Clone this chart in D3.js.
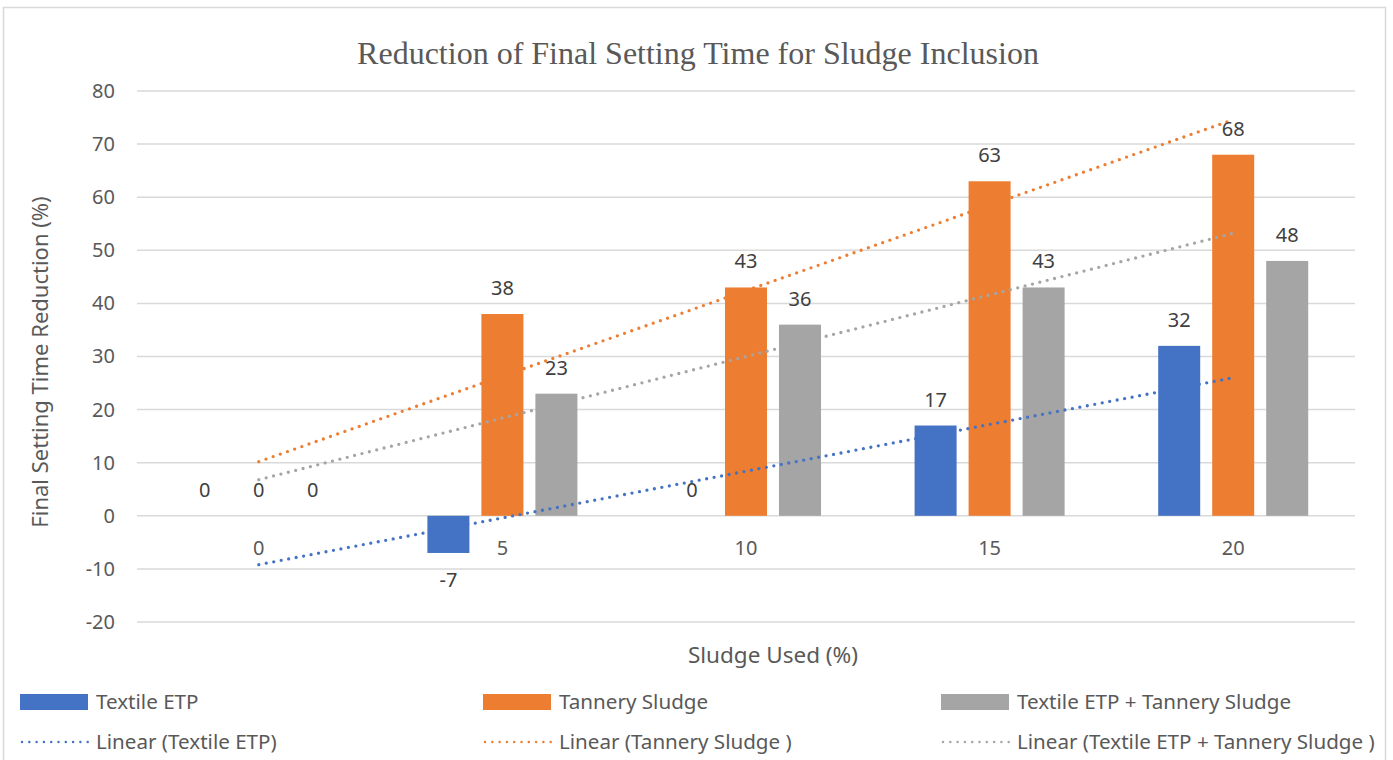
<!doctype html>
<html>
<head>
<meta charset="utf-8">
<style>
  body { margin: 0; background: #fff; }
  text { font-family: "Noto Sans", sans-serif; }
</style>
<script src="https://d3js.org/d3.v7.min.js"></script>
</head>
<body>
<div id="chart"></div>
<script>
// data
var categories = ["0", "5", "10", "15", "20"];
var textileEtp = [0, -7, 0, 17, 32];
var tannerySludge = [0, 38, 43, 63, 68];
var combined = [0, 23, 36, 43, 48];
var yTicks = [-20, -10, 0, 10, 20, 30, 40, 50, 60, 70, 80];

var seriesNames = ["Textile ETP", "Tannery Sludge", "Textile ETP + Tannery Sludge"];
var trendNames = ["Linear (Textile ETP)", "Linear (Tannery Sludge )", "Linear (Textile ETP + Tannery Sludge )"];
var colors = ["#4472C4", "#ED7D31", "#A5A5A5"];

var series = [textileEtp, tannerySludge, combined];

var W = 1393, H = 760;
var plot = {left: 137, right: 1355, top: 91, bottom: 622};

var svg = d3.select("#chart").append("svg")
    .attr("width", W)
    .attr("height", H);

// outer frame of the chart area
svg.append("rect")
    .attr("x", 3.5).attr("y", 7.5)
    .attr("width", 1382).attr("height", 800)
    .attr("fill", "#fff")
    .attr("stroke", "#d9d9d9")
    .attr("stroke-width", 1.5);

var x = d3.scaleBand()
    .domain(categories)
    .range([plot.left, plot.right]);

var xs = d3.scaleBand()
    .domain(d3.range(series.length))
    .range([-81, 81])
    .paddingInner(0.222)
    .paddingOuter(0.111);

var y = d3.scaleLinear()
    .domain([-20, 80])
    .range([plot.bottom, plot.top]);

// gridlines
svg.append("g")
  .selectAll("line")
  .data(yTicks)
  .enter()
  .append("line")
    .attr("x1", plot.left)
    .attr("x2", plot.right)
    .attr("y1", function(d) { return y(d); })
    .attr("y2", function(d) { return y(d); })
    .attr("stroke", "#d9d9d9")
    .attr("stroke-width", 1.5);

// y axis labels (plain hyphen for negatives, as in the original)
var yAxis = svg.append("g")
    .attr("transform", "translate(" + (plot.left - 22) + ",0)")
    .call(d3.axisLeft(y).tickValues(yTicks).tickSize(0).tickPadding(0)
      .tickFormat(function(d) { return String(d); }));
yAxis.select(".domain").remove();
yAxis.selectAll("text")
    .attr("fill", "#595959")
    .style("font-family", "'Noto Sans', sans-serif")
    .style("font-size", "20px");

// bars
series.forEach(function(vals, si) {
  svg.append("g")
    .selectAll("rect")
    .data(vals)
    .enter()
    .append("rect")
      .attr("x", function(d, i) { return x(categories[i]) + x.bandwidth() / 2 + xs(si); })
      .attr("width", xs.bandwidth())
      .attr("y", function(d) { return y(Math.max(d, 0)); })
      .attr("height", function(d) { return Math.abs(y(d) - y(0)); })
      .attr("fill", colors[si]);
});

// category labels sit just under the zero line
svg.append("g")
  .selectAll("text")
  .data(categories)
  .enter()
  .append("text")
    .attr("x", function(d) { return x(d) + x.bandwidth() / 2; })
    .attr("y", y(0) + 32)
    .attr("text-anchor", "middle")
    .attr("dy", "0.35em")
    .attr("fill", "#595959")
    .style("font-size", "20px")
    .text(function(d) { return d; });

// linear trendlines (least squares on category index, like Excel)
function fit(vals) {
  var n = vals.length;
  var mx = d3.mean(d3.range(1, n + 1));
  var my = d3.mean(vals);
  var sxy = d3.sum(vals, function(v, i) { return (i + 1 - mx) * (v - my); });
  var sxx = d3.sum(vals, function(v, i) { return (i + 1 - mx) * (i + 1 - mx); });
  var b = sxy / sxx;
  return function(k) { return my + b * (k - mx); };
}

var cx = function(i) { return x(categories[i]) + x.bandwidth() / 2; };

series.forEach(function(vals, si) {
  var f = fit(vals);
  var n = vals.length;
  svg.append("line")
    .attr("x1", cx(0))
    .attr("y1", y(f(1)))
    .attr("x2", cx(n - 1))
    .attr("y2", y(f(n)))
    .attr("stroke", colors[si])
    .attr("stroke-width", 3.3)
    .attr("stroke-linecap", "round")
    .attr("stroke-dasharray", "0 7.6");
});

// data labels
series.forEach(function(vals, si) {
  svg.append("g")
    .selectAll("text")
    .data(vals)
    .enter()
    .append("text")
      .attr("x", function(d, i) { return cx(i) + xs(si) + xs.bandwidth() / 2; })
      .attr("y", function(d) { return d < 0 ? y(d) + 27 : y(d) - 26; })
      .attr("dy", "0.35em")
      .attr("text-anchor", "middle")
      .attr("fill", "#404040")
      .style("font-size", "20px")
      .text(function(d) { return d; });
});

// title
svg.append("text")
    .attr("x", 698)
    .attr("y", 53)
    .attr("dy", "0.35em")
    .attr("text-anchor", "middle")
    .attr("fill", "#595959")
    .style("font-family", "'Liberation Serif', 'Times New Roman', serif")
    .style("font-size", "32px")
    .text("Reduction of Final Setting Time for Sludge Inclusion");

// axis titles
svg.append("text")
    .attr("x", 773)
    .attr("y", 655)
    .attr("dy", "0.35em")
    .attr("text-anchor", "middle")
    .attr("fill", "#595959")
    .style("font-size", "22.5px")
    .text("Sludge Used (%)");

svg.append("text")
    .attr("transform", "translate(40,362) rotate(-90)")
    .attr("dy", "0.35em")
    .attr("text-anchor", "middle")
    .attr("fill", "#595959")
    .style("font-size", "22px")
    .text("Final Setting Time Reduction (%)");

// legend
var legendX = [20, 483, 941];
var legend = svg.append("g");
seriesNames.forEach(function(name, i) {
  var g = legend.append("g").attr("transform", "translate(" + legendX[i] + ",702)");
  g.append("rect")
    .attr("x", 0).attr("y", -8)
    .attr("width", 68).attr("height", 16)
    .attr("fill", colors[i]);
  g.append("text")
    .attr("x", 76).attr("dy", "0.35em")
    .attr("fill", "#595959")
    .style("font-size", "20.6px")
    .text(name);
});
trendNames.forEach(function(name, i) {
  var g = legend.append("g").attr("transform", "translate(" + legendX[i] + ",742)");
  g.append("line")
    .attr("x1", 2).attr("x2", 68)
    .attr("stroke", colors[i])
    .attr("stroke-width", 2.5)
    .attr("stroke-linecap", "round")
    .attr("stroke-dasharray", "0 7.3");
  g.append("text")
    .attr("x", 76).attr("dy", "0.35em")
    .attr("fill", "#595959")
    .style("font-size", "20.6px")
    .text(name);
});
</script>
</body>
</html>
